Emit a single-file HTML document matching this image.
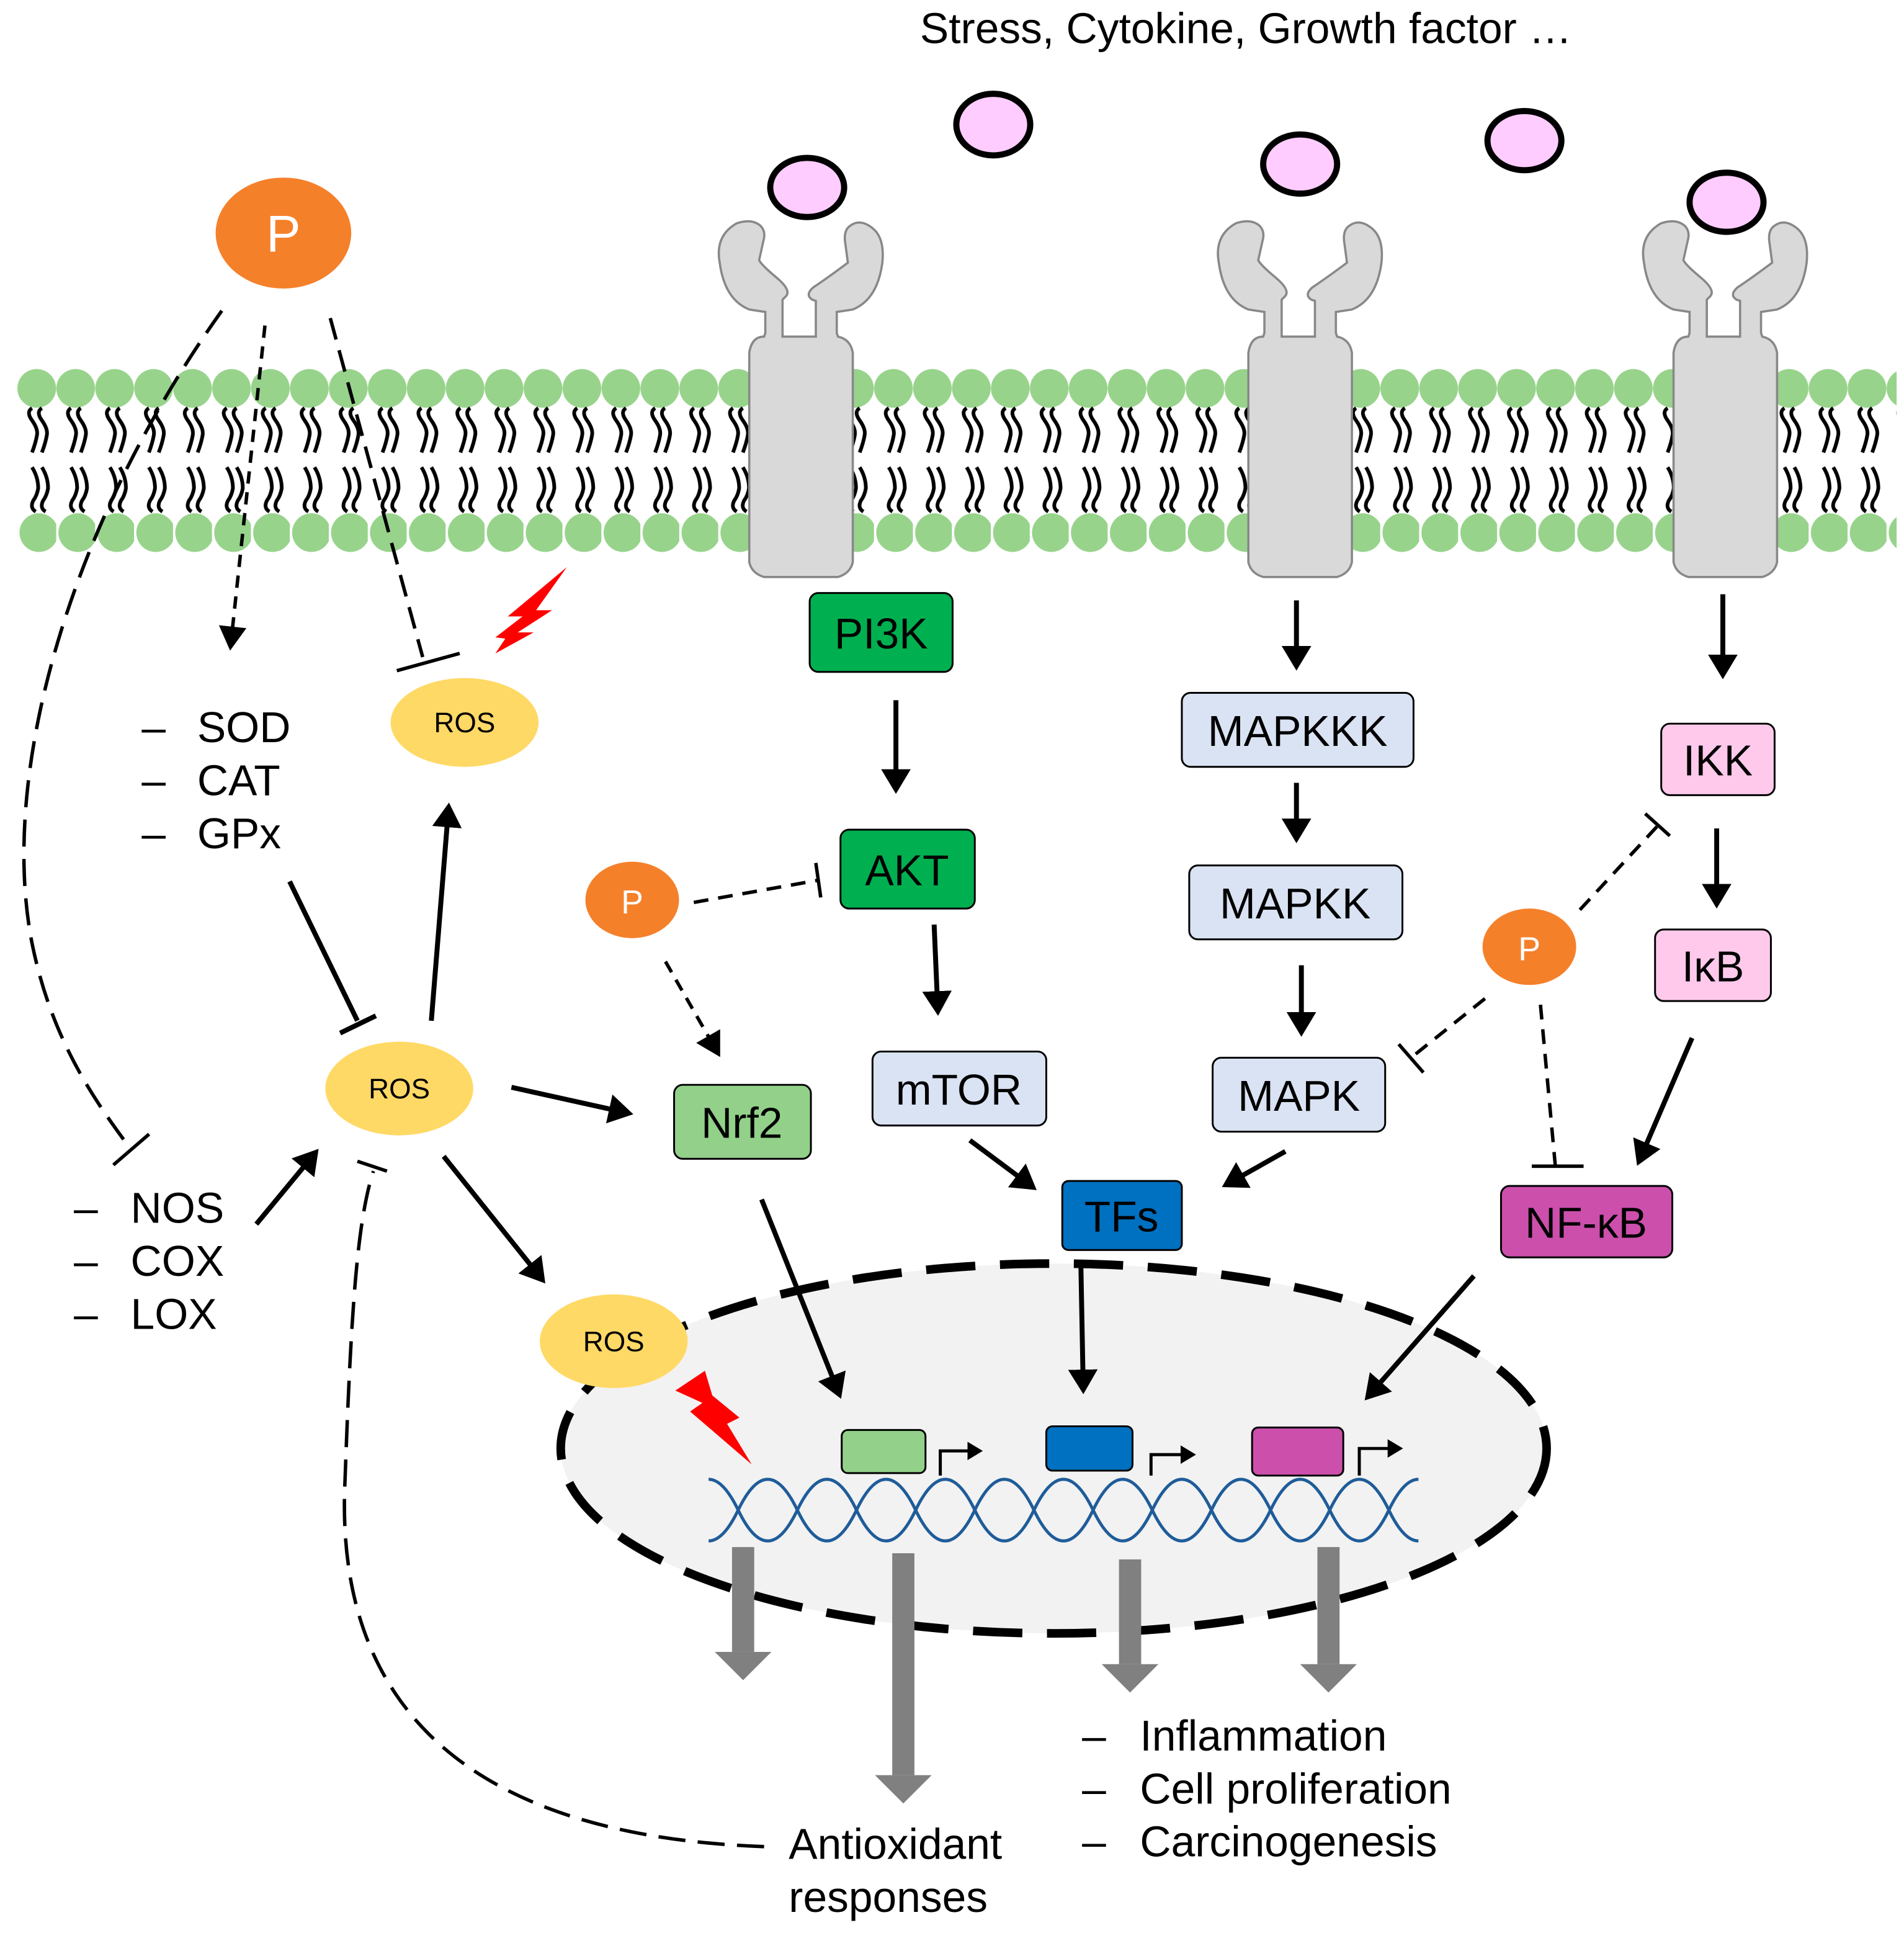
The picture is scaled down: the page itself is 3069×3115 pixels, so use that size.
<!DOCTYPE html>
<html><head><meta charset="utf-8"><style>
html,body{margin:0;padding:0;background:#fff}
svg{display:block}
text{font-family:"Liberation Sans",Arial,sans-serif}
</style></head><body>
<svg width="3069" height="3115" viewBox="0 0 1545 1568" xmlns="http://www.w3.org/2000/svg">
<defs>
<marker id="ah" markerWidth="6" markerHeight="6" refX="4" refY="3" orient="auto" markerUnits="strokeWidth"><path d="M0,0 L5,3 L0,6 Z" fill="#000"/></marker>
<marker id="ahs" markerWidth="8" markerHeight="8" refX="6" refY="4" orient="auto" markerUnits="strokeWidth"><path d="M0,0 L7,4 L0,8 Z" fill="#000"/></marker>
<pattern id="mem" x="14" y="290" width="31.6" height="165" patternUnits="userSpaceOnUse">
<circle cx="15.8" cy="25" r="15.7" fill="#98d38c"/>
<circle cx="17.5" cy="142" r="15.7" fill="#98d38c"/>
<g fill="none" stroke="#000" stroke-width="3">
<path d="M12,41 q-5,3 0,10 q5,7 4,12 q-1,6 -4,14"/>
<path d="M20,41 q-5,3 0,10 q5,7 4,12 q-1,6 -4,14"/>
<path d="M12,89 q5,8 5,17 q-1,6 -4,10 q-3,6 2,9"/>
<path d="M20,89 q5,8 5,17 q-1,6 -4,10 q-3,6 2,9"/>
</g>
</pattern>
<g id="rec">
<path d="M-15,60 L-15,30 L-12,27 Q-8,22 -20,12 Q-32,2 -34,-2 L-30,-20 Q-29,-26 -33,-30 Q-40,-36 -52,-32 Q-70,-22 -66,0 Q-62,30 -42,38 L-29,40 L-29,57 L-30,60 Q-40,60 -42,73 L-42,243 Q-40,252 -30,255 L30,255 Q40,252 42,243 L42,73 Q40,62 30,60 L29,57 L29,40 L42,38 Q62,30 66,0 Q68,-20 58,-28 Q48,-36 40,-30 Q34,-26 36,-15 L38,0 Q22,12 10,20 Q3,26 9,30 L12,31 L12,60 Z" fill="#d9d9d9" stroke="#888" stroke-width="1.8"/>
</g>
</defs>
<rect width="1545" height="1568" fill="#fff"/>
<text x="1011" y="35" font-size="35" text-anchor="middle">Stress, Cytokine, Growth factor …</text>
<g fill="#ffccff" stroke="#000" stroke-width="5">
<ellipse cx="655" cy="152" rx="30" ry="24"/>
<ellipse cx="806" cy="101" rx="30" ry="25"/>
<ellipse cx="1055" cy="133" rx="30" ry="24"/>
<ellipse cx="1237" cy="114" rx="30" ry="24"/>
<ellipse cx="1401" cy="164" rx="30" ry="24"/>
</g>
<rect x="14" y="290" width="1525" height="165" fill="url(#mem)"/>
<use href="#rec" x="650" y="213"/>
<use href="#rec" x="1055" y="213"/>
<use href="#rec" x="1400" y="213"/>
<ellipse cx="230" cy="189" rx="55" ry="45" fill="#f5802a"/>
<text x="230" y="204" font-size="42" fill="#fff" text-anchor="middle">P</text>
<g fill="none" stroke="#000" stroke-width="2.8">
<path d="M180,252 C60,420 0,620 25,760 C40,840 75,890 103,928" stroke-dasharray="22,10"/>
<line x1="92" y1="945" x2="121" y2="920"/>
<line x1="215" y1="264" x2="187" y2="525" stroke-dasharray="10,7" marker-end="url(#ahs)"/>
<line x1="268" y1="258" x2="343" y2="533" stroke-dasharray="18,9"/>
<line x1="322" y1="544" x2="373" y2="530"/>
</g>
<path d="M460,460 L435,495 L448,495 L420,513 L433,513 L402,530 L410,518 L402,517 L424,500 L412,500 Z" fill="#ff0000"/>
<ellipse cx="377" cy="586" rx="60" ry="36" fill="#ffd966"/>
<text x="377" y="594" font-size="23" text-anchor="middle">ROS</text>
<g font-size="35">
<text x="115" y="602">–</text><text x="160" y="602">SOD</text>
<text x="115" y="645">–</text><text x="160" y="645">CAT</text>
<text x="115" y="688">–</text><text x="160" y="688">GPx</text>
<text x="60" y="992">–</text><text x="106" y="992">NOS</text>
<text x="60" y="1035">–</text><text x="106" y="1035">COX</text>
<text x="60" y="1078">–</text><text x="106" y="1078">LOX</text>
</g>
<g stroke="#000" stroke-width="4" fill="none">
<line x1="235" y1="715" x2="290" y2="828"/>
<line x1="276" y1="838" x2="305" y2="824"/>
<line x1="350" y1="828" x2="364" y2="655" marker-end="url(#ah)"/>
<line x1="415" y1="882" x2="510" y2="903" marker-end="url(#ah)"/>
<line x1="360" y1="938" x2="440" y2="1038" marker-end="url(#ah)"/>
<line x1="208" y1="993" x2="256" y2="935" marker-end="url(#ah)"/>
</g>
<ellipse cx="324" cy="883" rx="60" ry="38" fill="#ffd966"/>
<text x="324" y="891" font-size="23" text-anchor="middle">ROS</text>
<ellipse cx="855" cy="1175" rx="400" ry="150" fill="#f2f2f2" stroke="#000" stroke-width="7" stroke-dasharray="40,20"/>
<g fill="none" stroke="#000" stroke-width="2.8">
<path d="M620,1498 C400,1490 270,1400 280,1200 C285,1060 290,990 303,950" stroke-dasharray="22,10"/>
<line x1="290" y1="942" x2="314" y2="950"/>
</g>
<ellipse cx="498" cy="1088" rx="60" ry="38" fill="#ffd966"/>
<text x="498" y="1096" font-size="23" text-anchor="middle">ROS</text>
<path d="M572,1112 L548,1128 L570,1138 L560,1145 L610,1188 L590,1155 L600,1150 L578,1132 Z" fill="#ff0000"/>
<g fill="none" stroke="#1f5c99" stroke-width="2.5">
<path d="M575,1200 q12,0 24,25 t24,25 t24,-25 t24,-25 t24,25 t24,25 t24,-25 t24,-25 t24,25 t24,25 t24,-25 t24,-25 t24,25 t24,25 t24,-25 t24,-25 t24,25 t24,25 t24,-25 t24,-25 t24,25 t24,25 t24,-25 t24,-25"/>
<path d="M575,1250 q12,0 24,-25 t24,-25 t24,25 t24,25 t24,-25 t24,-25 t24,25 t24,25 t24,-25 t24,-25 t24,25 t24,25 t24,-25 t24,-25 t24,25 t24,25 t24,-25 t24,-25 t24,25 t24,25 t24,-25 t24,-25 t24,25 t24,25"/>
</g>
<rect x="683" y="1160" width="68" height="35" rx="5" fill="#93d08a" stroke="#000" stroke-width="1.5"/>
<rect x="849" y="1157" width="70" height="36" rx="5" fill="#0070c0" stroke="#000" stroke-width="1.5"/>
<rect x="1016" y="1158" width="74" height="39" rx="5" fill="#cc4fac" stroke="#000" stroke-width="1.5"/>
<g fill="none" stroke="#000" stroke-width="2.5">
<path d="M763,1197 V1177 H795" marker-end="url(#ah)"/>
<path d="M934,1197 V1180 H968" marker-end="url(#ah)"/>
<path d="M1103,1197 V1175 H1136" marker-end="url(#ah)"/>
</g>
<g fill="#808080">
<rect x="594" y="1255" width="18" height="85"/><path d="M580,1340 L626,1340 L603,1363 Z"/>
<rect x="724" y="1260" width="18" height="180"/><path d="M710,1440 L756,1440 L733,1463 Z"/>
<rect x="908" y="1265" width="18" height="85"/><path d="M894,1350 L940,1350 L917,1373 Z"/>
<rect x="1069" y="1255" width="18" height="95"/><path d="M1055,1350 L1101,1350 L1078,1373 Z"/>
</g>
<g font-size="35">
<text x="640" y="1508">Antioxidant</text>
<text x="640" y="1551">responses</text>
<text x="878" y="1420">–</text><text x="925" y="1420">Inflammation</text>
<text x="878" y="1463">–</text><text x="925" y="1463">Cell proliferation</text>
<text x="878" y="1506">–</text><text x="925" y="1506">Carcinogenesis</text>
</g>
<g stroke="#000" stroke-width="1.5">
<rect x="657" y="481" width="116" height="64" rx="7" fill="#00b050"/>
<rect x="682" y="673" width="109" height="64" rx="7" fill="#00b050"/>
<rect x="708" y="853" width="141" height="60" rx="7" fill="#dae3f3"/>
<rect x="547" y="880" width="111" height="60" rx="7" fill="#93d08a"/>
<rect x="862" y="958" width="97" height="56" rx="5" fill="#0070c0"/>
<rect x="959" y="562" width="188" height="60" rx="7" fill="#dae3f3"/>
<rect x="965" y="702" width="173" height="60" rx="7" fill="#dae3f3"/>
<rect x="984" y="858" width="140" height="60" rx="7" fill="#dae3f3"/>
<rect x="1348" y="587" width="92" height="58" rx="7" fill="#ffc9ec"/>
<rect x="1343" y="754" width="94" height="58" rx="7" fill="#ffc9ec"/>
<rect x="1218" y="962" width="139" height="58" rx="7" fill="#cc4fac"/>
</g>
<g font-size="35" text-anchor="middle">
<text x="715" y="526">PI3K</text>
<text x="736" y="718">AKT</text>
<text x="778" y="896">mTOR</text>
<text x="602" y="923">Nrf2</text>
<text x="910" y="999">TFs</text>
<text x="1053" y="605">MAPKKK</text>
<text x="1051" y="745">MAPKK</text>
<text x="1054" y="901">MAPK</text>
<text x="1394" y="629">IKK</text>
<text x="1390" y="796">IκB</text>
<text x="1287" y="1004">NF-κB</text>
</g>
<g stroke="#000" stroke-width="4" fill="none">
<line x1="727" y1="568" x2="727" y2="640" marker-end="url(#ah)"/>
<line x1="758" y1="750" x2="761" y2="820" marker-end="url(#ah)"/>
<line x1="787" y1="925" x2="838" y2="963" marker-end="url(#ah)"/>
<line x1="1043" y1="934" x2="995" y2="961" marker-end="url(#ah)"/>
<line x1="877" y1="1022" x2="879" y2="1127" marker-end="url(#ah)"/>
<line x1="618" y1="973" x2="681" y2="1131" marker-end="url(#ah)"/>
<line x1="1196" y1="1035" x2="1110" y2="1133" marker-end="url(#ah)"/>
<line x1="1052" y1="487" x2="1052" y2="540" marker-end="url(#ah)"/>
<line x1="1052" y1="635" x2="1052" y2="680" marker-end="url(#ah)"/>
<line x1="1056" y1="783" x2="1056" y2="837" marker-end="url(#ah)"/>
<line x1="1398" y1="482" x2="1398" y2="547" marker-end="url(#ah)"/>
<line x1="1393" y1="672" x2="1393" y2="733" marker-end="url(#ah)"/>
<line x1="1373" y1="842" x2="1330" y2="942" marker-end="url(#ah)"/>
</g>
<ellipse cx="513" cy="730" rx="38" ry="31" fill="#f5802a"/>
<text x="513" y="741" font-size="27" fill="#fff" text-anchor="middle">P</text>
<ellipse cx="1241" cy="768" rx="38" ry="31" fill="#f5802a"/>
<text x="1241" y="779" font-size="27" fill="#fff" text-anchor="middle">P</text>
<g stroke="#000" stroke-width="2.8" fill="none">
<line x1="563" y1="732" x2="664" y2="714" stroke-dasharray="12,8"/>
<line x1="662" y1="700" x2="666" y2="728"/>
<line x1="540" y1="780" x2="583" y2="855" stroke-dasharray="10,7" marker-end="url(#ahs)"/>
<line x1="1282" y1="738" x2="1345" y2="670" stroke-dasharray="12,8"/>
<line x1="1335" y1="660" x2="1355" y2="678"/>
<line x1="1205" y1="810" x2="1145" y2="858" stroke-dasharray="12,8"/>
<line x1="1135" y1="847" x2="1155" y2="870"/>
<line x1="1250" y1="815" x2="1262" y2="945" stroke-dasharray="12,8"/>
<line x1="1243" y1="946" x2="1285" y2="946"/>
</g>
</svg>
</body></html>
